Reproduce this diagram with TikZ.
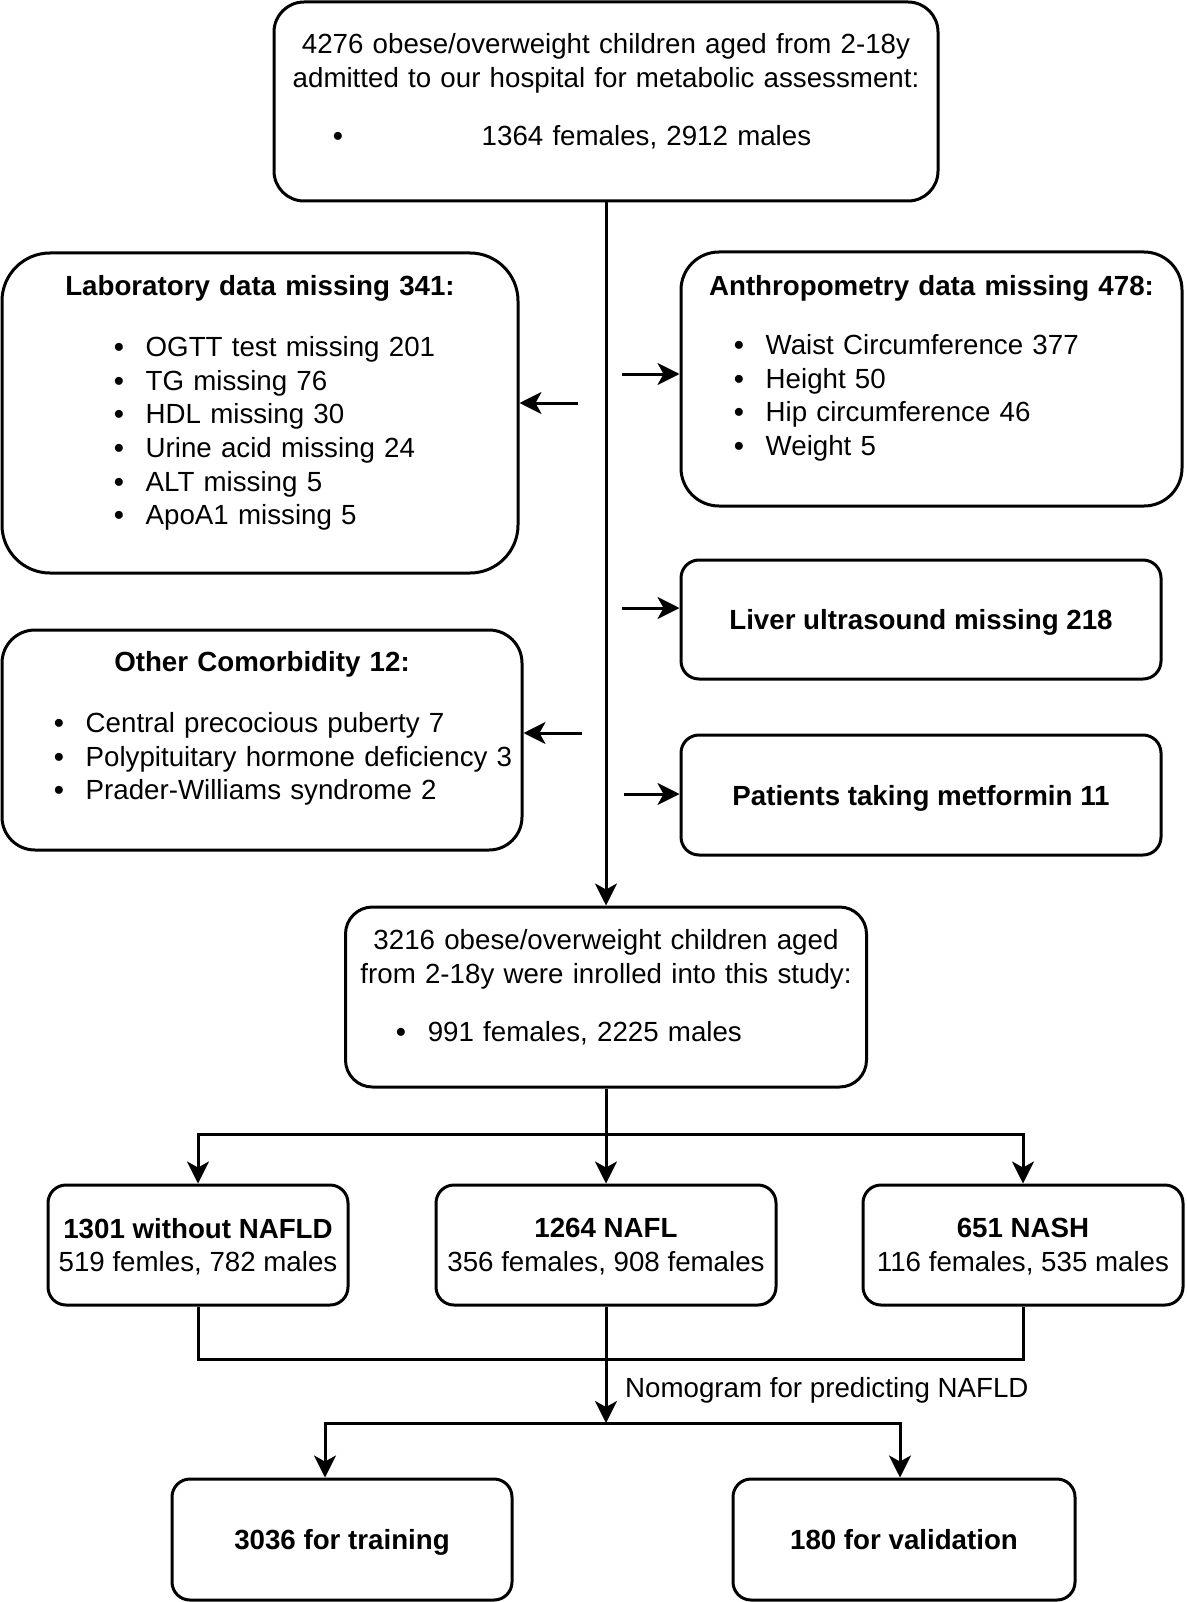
\documentclass[tikz,border=0pt]{standalone}
\usepackage{fontspec}
\setmainfont{Liberation Sans}
\usepackage{tikz}
\usetikzlibrary{arrows.meta}
\usetikzlibrary{calc}
\setlength{\parindent}{0pt}
\tikzset{
	box/.style={draw, line width=3pt, rounded corners=#1, inner sep=0pt, align=center},
	box/.default=18pt,
	list/.style={align=left},
	one/.style={text height=25pt, text depth=5pt},
	two/.style={text depth=-2pt},
	link/.style={line width=3pt},
	arr/.style={link, -{Stealth[length=22pt, width=22pt, inset=6pt]}}
}
\newcommand{\itm}[2]{\hspace*{#1}\textbf{\textbullet}\hspace{22pt}#2}
\newcommand{\hdr}[1]{\makebox[\hsize]{\textbf{#1}}}
\newcommand{\ctr}[1]{\makebox[\hsize]{#1}}

\begin{document}
\begin{tikzpicture}[x=1pt, y=-1pt, font=\fontsize{27.7}{33.6}\selectfont]
\useasboundingbox (0,0) rectangle (1186,1602);

% screening
\node[box=30pt, list, text width=664pt, minimum height=199pt, text depth=115.5pt] (adm) at (606, 101.5) {%
\ctr{4276 obese/overweight children aged from 2-18y}\\
\ctr{admitted to our hospital for metabolic assessment:}\\[24.4pt]
\itm{59pt}{\hspace{117pt}1364 females, 2912 males}};

% exclusions
\node[box=48pt, list, text width=516pt, minimum height=320pt, text depth=254.5pt] (lab) at (260, 413) {%
\hdr{Laboratory data missing 341:}\\[27.4pt]
\itm{112pt}{OGTT test missing 201}\\
\itm{112pt}{TG missing 76}\\
\itm{112pt}{HDL missing 30}\\
\itm{112pt}{Urine acid missing 24}\\
\itm{112pt}{ALT missing 5}\\
\itm{112pt}{ApoA1 missing 5}};
\node[box=38pt, list, text width=501pt, minimum height=254pt, text depth=186.5pt] (anth) at (931.5, 379) {%
\hdr{Anthropometry data missing 478:}\\[25.4pt]
\itm{53pt}{Waist Circumference 377}\\
\itm{53pt}{Height 50}\\
\itm{53pt}{Hip circumference 46}\\
\itm{53pt}{Weight 5}};
\node[box, one, minimum width=480pt, minimum height=119pt] (liver) at (921, 619.5) {\textbf{Liver ultrasound missing 218}};
\node[box=33pt, list, text width=520pt, minimum height=220pt, text depth=156.5pt] (como) at (262, 740) {%
\hdr{Other Comorbidity 12:}\\[27.4pt]
\itm{52pt}{Central precocious puberty 7}\\
\itm{52pt}{Polypituitary hormone deficiency 3}\\
\itm{52pt}{Prader-Williams syndrome 2}};
\node[box, one, minimum width=480pt, minimum height=120pt] (metf) at (921, 795) {\textbf{Patients taking metformin 11}};

% enrolled
\node[box=27pt, list, text width=521pt, minimum height=180pt, text depth=114.5pt] (study) at (606, 997) {%
\ctr{3216 obese/overweight children aged}\\
\ctr{from 2-18y were inrolled into this study:}\\[24.4pt]
\itm{50.6pt}{991 females, 2225 males}};

% groups
\node[box, two, minimum width=300pt, minimum height=120pt] (none) at (198, 1245) {\textbf{1301 without NAFLD}\\519 femles, 782 males};
\node[box, two, minimum width=340pt, minimum height=120pt] (nafl) at (606, 1245) {\textbf{1264 NAFL}\\356 females, 908 females};
\node[box, two, minimum width=320pt, minimum height=120pt] (nash) at (1023, 1245) {\textbf{651 NASH}\\116 females, 535 males};

% cohorts
\node[box, one, minimum width=340pt, minimum height=121pt] (train) at (342, 1539.5) {\textbf{3036 for training}};
\node[box, one, minimum width=342pt, minimum height=121pt] (valid) at (904, 1539.5) {\textbf{180 for validation}};
\node[inner sep=0pt, anchor=west] (nomo) at (625, 1390) {Nomogram for predicting NAFLD};

\coordinate (ea) at (622, 374);
\coordinate (el) at (578, 403);
\coordinate (eu) at (622, 608);
\coordinate (ec) at (582, 733);
\coordinate (em) at (624, 794);
\coordinate (s1) at (606, 1134);
\coordinate (m1) at (606, 1359);
\coordinate (s2) at (606, 1423);
\coordinate (t1) at (325, 1423);
\coordinate (v1) at (900, 1423);

\draw[arr] (adm.south) -- (study.north);
\draw[arr] (ea) -- (ea -| anth.west);
\draw[arr] (el) -- (el -| lab.east);
\draw[arr] (eu) -- (eu -| liver.west);
\draw[arr] (ec) -- (ec -| como.east);
\draw[arr] (em) -- (em -| metf.west);

\draw[link] (study.south) -- (s1);
\draw[arr] (s1) -| (none.north);
\draw[arr] (s1) -- (nafl.north);
\draw[arr] (s1) -| (nash.north);

\draw[link] (none.south) |- (m1);
\draw[link] (nash.south) |- (m1);
\draw[link] (nafl.south) -- (m1);
\draw[arr] (m1) -- (s2);
\draw[arr] (s2) -- (t1) -- (t1 |- train.north);
\draw[arr] (s2) -- (v1) -- (v1 |- valid.north);
\end{tikzpicture}
\end{document}
